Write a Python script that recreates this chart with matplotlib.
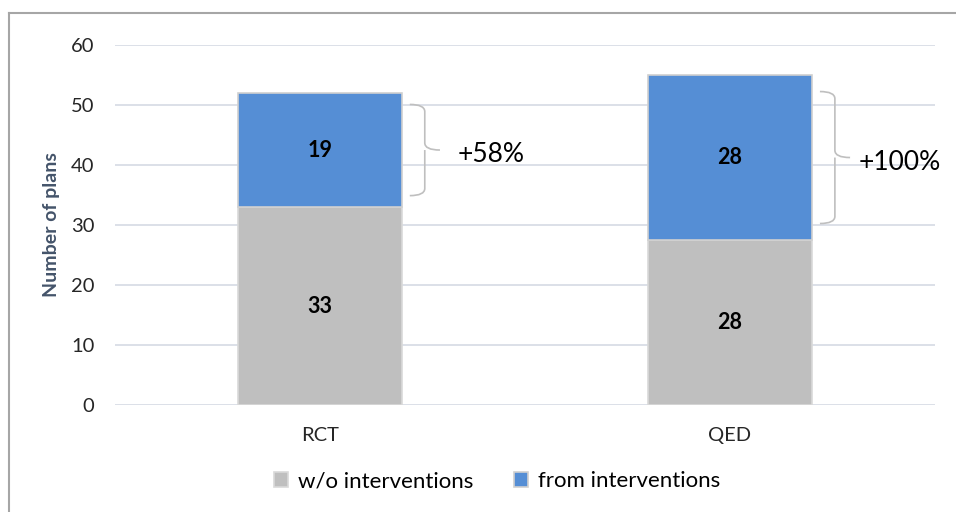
import numpy as np
import matplotlib.pyplot as plt
from matplotlib.path import Path
from matplotlib.patches import PathPatch
from matplotlib.lines import Line2D

plt.rcParams['font.family'] = ['Lato', 'DejaVu Sans']

# data
categories = ['RCT', 'QED']
without_int = [33, 27.5]
from_int = [19, 27.5]
increase_labels = ['+58%', '+100%']
series_names = ['w/o interventions', 'from interventions']

gray = '#bfbfbf'
blue = '#558ed5'
text_offsets = [0.137, 0.114]  # gap between bar edge and the % label

fig = plt.figure(figsize=(9.56, 5.12), dpi=100)
ax = fig.add_axes([0.120, 0.209, 0.858, 0.703])

x = np.arange(len(categories))
width = 0.4
b1 = ax.bar(x, without_int, width, color=gray, edgecolor='#d9d9d9', linewidth=1.2,
            label=series_names[0], zorder=3)
b2 = ax.bar(x, from_int, width, bottom=without_int, color=blue, edgecolor='#d0d0d0',
            linewidth=1.2, label=series_names[1], zorder=3)

for i in range(len(categories)):
    ax.text(x[i], without_int[i] / 2, '%.0f' % without_int[i], ha='center', va='center',
            fontsize=15.5, fontweight='bold', color='black', zorder=4)
    ax.text(x[i], without_int[i] + from_int[i] / 2, '%.0f' % from_int[i], ha='center',
            va='center', fontsize=15.5, fontweight='bold', color='black', zorder=4)

# curly braces next to the "from interventions" segment
for i in range(len(categories)):
    inset = from_int[i] * 0.1
    top = without_int[i] + from_int[i] - inset
    bot = without_int[i] + inset
    mid = (top + bot) / 2
    x0 = x[i] + width / 2 + 0.0195
    xv = x[i] + width / 2 + 0.056
    xt = x[i] + width / 2 + 0.093
    r = 1.2
    verts = [(x0, top), (xv, top), (xv, top - r),
             (xv, mid + r), (xv, mid), (xt, mid),
             (xv, mid), (xv, mid - r),
             (xv, bot + r), (xv, bot), (x0, bot)]
    codes = [Path.MOVETO, Path.CURVE3, Path.CURVE3,
             Path.LINETO, Path.CURVE3, Path.CURVE3,
             Path.MOVETO, Path.CURVE3,
             Path.LINETO, Path.CURVE3, Path.CURVE3]
    ax.add_patch(PathPatch(Path(verts, codes), fill=False, edgecolor='#bfbfbf',
                           linewidth=1.2, zorder=4, clip_on=False))
    ax.text(x[i] + width / 2 + text_offsets[i], mid - 0.8, increase_labels[i], ha='left',
            va='center', fontsize=19, color='black')

ax.set_xlim(-0.5, 1.5)
ax.set_ylim(0, 60)
ax.set_yticks(range(0, 61, 10))
ax.set_xticks(x)
ax.set_xticklabels(categories)
ax.tick_params(axis='both', length=0, labelsize=14.5, colors='#262626')
ax.tick_params(axis='y', pad=14.5)
ax.tick_params(axis='x', pad=16)
ax.yaxis.grid(True, color='#d9dde6', linewidth=1.3, zorder=0)
ax.set_axisbelow(True)
for s in ax.spines.values():
    s.set_visible(False)
ax.set_ylabel('Number of plans', fontsize=14, fontweight='bold', color='#44546a', labelpad=8)

leg = fig.legend(handles=[b1, b2], labels=series_names, loc='center',
                 bbox_to_anchor=(0.52, 0.06), ncol=2, frameon=False, fontsize=16,
                 handlelength=0.65, handleheight=0.65, handletextpad=0.45, columnspacing=1.8)

# frame lines (top and left)
fig.add_artist(Line2D([9 / 956, 1], [1 - 13 / 512, 1 - 13 / 512], color='#a6a6a6', linewidth=1.5))
fig.add_artist(Line2D([9 / 956, 9 / 956], [0, 1 - 13 / 512], color='#a6a6a6', linewidth=1.5))

fig.savefig('out.png', dpi=100)
